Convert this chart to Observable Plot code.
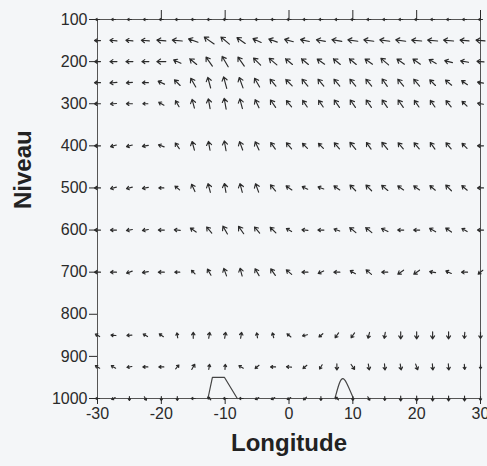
<!DOCTYPE html>
<html><head><meta charset="utf-8">
<script src="https://cdn.jsdelivr.net/npm/d3@7"></script>
<script src="https://cdn.jsdelivr.net/npm/@observablehq/plot@0.6"></script>
<style>
html,body{margin:0;padding:0;background:#f4f6f8;}
#chart svg{display:block;}
</style></head><body><div id="chart"></div>
<script>
// Grid
const longitudes = [-30,-27.5,-25,-22.5,-20,-17.5,-15,-12.5,-10,-7.5,-5,-2.5,0,2.5,5,7.5,10,12.5,15,17.5,20,22.5,25,27.5,30];
const levels = [100,150,200,250,300,400,500,600,700,850,925,1000];
const xTicks = [-30,-20,-10,0,10,20,30];
const topTicks = [-20,-10,0,10,20,30];
const yTicks = [100,200,300,400,500,600,700,800,900,1000];

// Wind direction: degrees from westward, counter-clockwise toward upward (90 = up, -90 = down, 180 = east)
// Wind magnitude: arrow length units
const ang100 = [0,0,0,0,0,0,0,0,0,0,0,0,0,0,0,0,0,0,0,0,0,0,0,0,0];
const len100 = [4,4,4,4,4,4,4,4,4,4,4,4,4,4,4,4,4,4,4,4,4,4,4,4,4];
const ang150 = [0,5,5,5,5,5,20,35,40,35,25,20,15,12,10,10,8,8,8,8,5,5,5,5,5];
const len150 = [6,7,7,8,9,10,10,12,11,10,9,9,9,9,9,10,10,10,10,10,10,10,10,9,9];
const ang200 = [0,0,0,0,0,25,40,55,60,55,45,40,40,40,35,40,40,35,40,35,35,30,15,10,5];
const len200 = [6,7,7,7,9,8,9,11,12,11,10,10,9,9,9,9,9,9,10,9,9,8,8,8,7];
const ang250 = [0,-5,-5,0,25,45,60,75,75,70,60,50,45,50,50,50,50,50,55,50,50,45,40,35,10];
const len250 = [6,7,6,6,7,8,10,11,12,11,10,9,9,9,9,9,9,9,9,9,9,8,8,7,6];
const ang300 = [0,-5,0,0,30,60,75,80,80,75,65,55,50,55,55,55,55,55,55,55,55,55,50,45,10];
const len300 = [6,6,6,5,6,7,9,10,11,10,9,9,8,8,8,9,9,9,9,9,8,8,8,7,6];
const ang400 = [0,-15,-15,-10,20,55,75,80,80,70,65,55,50,45,45,50,50,55,50,50,50,55,50,45,0];
const len400 = [6,6,6,6,6,7,9,9,10,9,9,8,8,7,7,8,9,8,9,8,8,8,8,7,6];
const ang500 = [0,-15,-15,-10,0,40,65,75,80,75,70,50,35,25,20,35,45,45,40,35,35,40,45,40,0];
const len500 = [6,6,6,6,5,6,8,9,9,9,9,8,7,6,6,7,8,8,8,7,7,7,8,7,6];
const ang600 = [0,0,-10,-10,0,5,35,50,60,55,50,45,30,5,0,20,40,40,25,0,0,30,35,30,0];
const len600 = [6,6,6,6,6,6,7,8,9,9,8,8,6,6,6,6,8,8,7,6,6,7,7,6,6];
const ang700 = [0,0,-20,-10,0,0,45,60,70,75,60,55,40,0,-25,0,30,40,0,-35,-35,10,25,0,-40];
const len700 = [6,6,6,6,6,5,5,7,8,8,8,8,7,6,6,6,6,7,6,7,7,6,6,6,6];
const ang850 = [30,5,-5,30,35,80,90,100,100,100,80,75,40,-15,-40,-55,-55,-75,-80,-90,-90,-90,-90,-85,-90];
const len850 = [5,5,5,5,5,5,6,6,6,6,5,5,5,5,5,6,6,6,6,7,7,7,7,6,6];
const ang925 = [30,30,-10,0,0,130,120,100,95,30,-40,0,5,-40,-60,-90,-125,-100,-95,-100,-110,-95,-95,-95,-90];
const len925 = [5,5,5,5,5,5,6,5,5,5,5,5,5,5,5,6,6,6,6,6,6,6,6,5,4];
const ang1000 = [0,-30,-90,-120,-90,-90,0,40,0,0,-30,-30,-30,-40,-90,40,-90,-120,-90,-90,-90,-90,-90,-90,-90];
const len1000 = [4,4,4,4,4,4,4,4,4,4,4,4,4,4,4,4,4,4,4,5,5,5,5,5,4];

// Topography (longitude, level)
const topoWestLon = [-12.7,-12.0,-10.1,-8.1];
const topoWestLev = [1000,950,950,1000];
const topoEastLon = [7.2,7.9,8.4,8.9,10.1];
const topoEastLev = [1000,960,950,957,1000];

const angleRows = [ang100,ang150,ang200,ang250,ang300,ang400,ang500,ang600,ang700,ang850,ang925,ang1000];
const lengthRows = [len100,len150,len200,len250,len300,len400,len500,len600,len700,len850,len925,len1000];

const winds = [];
levels.forEach((lev, i) => longitudes.forEach((lon, j) => {
  winds.push({lon, lev, ang: angleRows[i][j], len: lengthRows[i][j]});
}));
const topoWest = topoWestLon.map((lon, i) => ({lon, lev: topoWestLev[i]}));
const topoEast = topoEastLon.map((lon, i) => ({lon, lev: topoEastLev[i]}));

const arrowShape = {
  draw(context, l) {
    const h = Math.min(4.5, l * 0.5), s = Math.sin(0.6), c = Math.cos(0.6);
    context.moveTo(0, 0);
    context.lineTo(0, -l);
    context.moveTo(-h * s, -l + h * c);
    context.lineTo(0, -l);
    context.lineTo(h * s, -l + h * c);
  }
};

const chart = Plot.plot({
  width: 487, height: 466,
  marginLeft: 97, marginRight: 7, marginTop: 19, marginBottom: 68,
  style: {background: "#f4f6f8", fontFamily: "Arial, 'Liberation Sans', sans-serif", color: "#2a2a2a", overflow: "visible"},
  x: {domain: [-30, 30]},
  y: {domain: [100, 1000], reverse: true},
  length: {type: "identity"},
  marks: [
    Plot.frame({stroke: "#555"}),
    Plot.axisX({ticks: xTicks, tickSize: 6, tickPadding: 3, fontSize: 16, tickFormat: d => String(d), label: null}),
    Plot.axisX({anchor: "top", ticks: topTicks, tickSize: 10, tickFormat: () => "", label: null}),
    Plot.axisY({ticks: yTicks, tickSize: 8, tickPadding: 2, fontSize: 16, tickFormat: d => String(d), label: null}),
    Plot.line(topoWest, {x: "lon", y: "lev", stroke: "#444", strokeWidth: 1.2}),
    Plot.line(topoEast, {x: "lon", y: "lev", stroke: "#444", strokeWidth: 1.2, curve: "basis"}),
    Plot.vector(winds, {x: "lon", y: "lev", rotate: d => d.ang - 90, length: "len", shape: arrowShape, anchor: "middle", stroke: "#2b2b2b", strokeWidth: 1.15}),
    Plot.text(["Longitude"], {frameAnchor: "bottom", dy: 52, fontSize: 24, fontWeight: "bold", fill: "#222"}),
    Plot.text(["Niveau"], {frameAnchor: "left", dx: -74, rotate: -90, fontSize: 24, fontWeight: "bold", fill: "#222"})
  ]
});
document.getElementById("chart").appendChild(chart);
</script>
</body></html>
